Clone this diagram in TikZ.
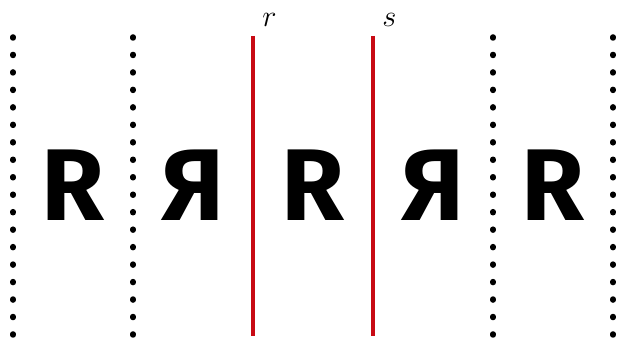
\documentclass[tikz,border=0pt]{standalone}
\usepackage{fontspec}
\newfontfamily\letterfont{Fira Sans}
\usepackage{tikz}
\usetikzlibrary{positioning,calc}
\definecolor{MirrorRed}{RGB}{200,10,20}
\tikzset{
	axis/.style={draw=black,line width=0.11cm,line cap=round,dash pattern=on 0.02cm off 0.3294cm},
	mirror/.style={draw=MirrorRed,line width=0.08cm},
	glyph/.style={anchor=base,inner sep=0pt,font=\letterfont\bfseries\fontsize{58}{60}\selectfont},
	tag/.style={anchor=south west,inner sep=0.18cm,font=\LARGE},
}
\begin{document}
\begin{tikzpicture}
	\useasboundingbox (0,0) rectangle (12.34,6.76);
	% dotted axes
	\foreach \n/\xx in {a/0.26,b/2.66,e/9.86,f/12.26}{
		\coordinate (\n top) at (\xx,6.02);
		\coordinate (\n bot) at (\xx,0.06);
		\draw[axis] (\n top) -- (\n bot);
	}
	% mirror lines
	\coordinate (r top) at (5.06,6.04);
	\coordinate (r bot) at (5.06,0.04);
	\coordinate (s top) at (7.46,6.04);
	\coordinate (s bot) at (7.46,0.04);
	\draw[mirror] (r top) -- (r bot);
	\draw[mirror] (s top) -- (s bot);
	\node[tag] (rlab) at (r top) {$r$};
	\node[tag] (slab) at (s top) {$s$};
	% letters
	\foreach \n/\xx/\fl in {1/1.46/1,2/3.86/-1,3/6.26/1,4/8.66/-1,5/11.06/1}
	\node[glyph,xscale=\fl] (L\n) at (\xx,2.34) {R};
\end{tikzpicture}
\end{document}
